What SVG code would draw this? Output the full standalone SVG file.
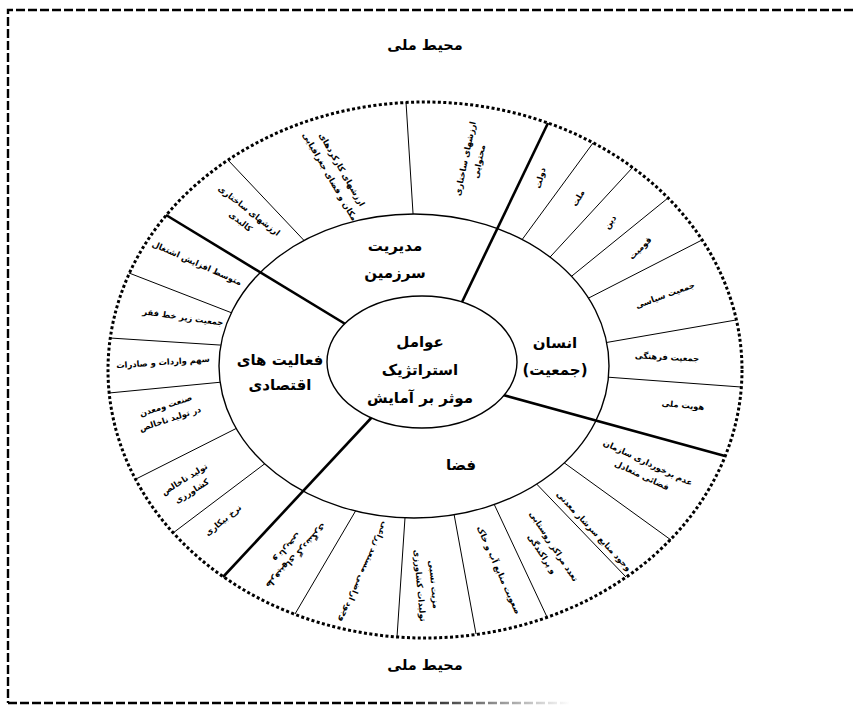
<svg xmlns="http://www.w3.org/2000/svg" width="853" height="707" viewBox="0 0 853 707">
<defs>
<linearGradient id="fade" gradientUnits="userSpaceOnUse" x1="400" y1="0" x2="570" y2="0">
<stop offset="0" stop-color="#000"/>
<stop offset="1" stop-color="#fff"/>
</linearGradient>
</defs>
<style>
text{font-family:"DejaVu Sans",sans-serif;font-weight:bold;text-anchor:middle;dominant-baseline:central;direction:rtl;fill:#000}
.h{font-size:14.5px}
.m{font-size:15px}
.c{font-size:15px}
.s{font-size:8.3px}
.thin{stroke:#000;stroke-width:1;fill:none}
.thick{stroke:#000;stroke-width:2.6;fill:none}
.ell{stroke:#000;stroke-width:1.4;fill:#fff}
</style>
<rect width="853" height="707" fill="#fff"/>
<g id="border" fill="none" stroke-width="2.4" stroke-dasharray="9 3">
<path d="M853,10 H8 V703" stroke="#000"/>
<path d="M8,703 H853" stroke="url(#fade)"/>
</g>
<g id="title-top"><text class="h" x="425" y="45">محیط ملی</text></g>
<g id="title-bottom"><text class="h" x="425" y="665">محیط ملی</text></g>
<g id="outer-ring"><ellipse cx="425" cy="370" rx="317" ry="268" fill="none" stroke="#000" stroke-width="3" stroke-dasharray="3 2.4"/></g>
<g id="connectors-outer" class="thin">
<line x1="314" y1="251" x2="228" y2="160"/>
<line x1="414" y1="229" x2="406" y2="102"/>
<line x1="513" y1="252" x2="593" y2="143"/>
<line x1="540" y1="268" x2="633" y2="167"/>
<line x1="562" y1="284" x2="668" y2="198"/>
<line x1="577" y1="304" x2="702" y2="240"/>
<line x1="592" y1="345" x2="736" y2="320"/>
<line x1="592" y1="376" x2="741" y2="387"/>
<line x1="552" y1="454" x2="671" y2="540"/>
<line x1="527" y1="474" x2="626" y2="577"/>
<line x1="487" y1="489" x2="547" y2="617"/>
<line x1="452" y1="503" x2="476" y2="634"/>
<line x1="406" y1="503" x2="397" y2="637"/>
<line x1="362" y1="500" x2="295" y2="614"/>
<line x1="245" y1="318" x2="129" y2="273"/>
<line x1="235" y1="346" x2="110" y2="338"/>
<line x1="233" y1="381" x2="109" y2="393"/>
<line x1="249" y1="422" x2="136" y2="479"/>
<line x1="275" y1="456" x2="173" y2="533"/>
</g>
<g id="middle-ring"><ellipse class="ell" cx="414" cy="366" rx="195" ry="152"/></g>
<g id="connectors-main" class="thick">
<line x1="451" y1="325" x2="548" y2="123"/>
<line x1="481" y1="389" x2="725" y2="456"/>
<line x1="401" y1="386" x2="223" y2="577"/>
<line x1="370" y1="339" x2="166" y2="215"/>
</g>
<g id="center">
<ellipse class="ell" cx="422" cy="362" rx="95" ry="66"/>
<text class="c" x="420" y="342">عوامل</text>
<text class="c" x="420" y="370">استراتژیک</text>
<text class="c" x="420" y="398">موثر بر آمایش</text>
</g>
<g id="sector-land"><text class="m" x="395" y="246">مدیریت</text><text class="m" x="395" y="273">سرزمین</text></g>
<g id="sector-human"><text class="m" x="555" y="343">انسان</text><text class="m" x="555" y="370">(جمعیت)</text></g>
<g id="sector-economy"><text class="m" x="280" y="360">فعالیت های</text><text class="m" x="280" y="385">اقتصادی</text></g>
<g id="sector-space"><text class="m" x="461" y="465">فضا</text></g>
<g id="l1"><text class="s" transform="translate(245,216) rotate(38)"><tspan x="0" y="-7">ارزشهای ساختاری</tspan><tspan x="0" y="7">کالبدی</tspan></text></g>
<g id="l2"><text class="s" transform="translate(336,173) rotate(60)"><tspan x="0" y="-7">ارزشهای کارکردهای</tspan><tspan x="0" y="7">مکان و فضای جغرافیایی</tspan></text></g>
<g id="l3"><text class="s" transform="translate(472,160) rotate(-78)"><tspan x="0" y="-7">ارزشهای ساختاری</tspan><tspan x="0" y="7">محتوایی</tspan></text></g>
<g id="l4"><text class="s" transform="translate(540,178) rotate(-75)">دولت</text></g>
<g id="l5"><text class="s" transform="translate(578,198) rotate(-60)">ملت</text></g>
<g id="l6"><text class="s" transform="translate(610,222) rotate(-55)">دین</text></g>
<g id="l7"><text class="s" transform="translate(640,248) rotate(-45)">قومیت</text></g>
<g id="l8"><text class="s" transform="translate(665,295) rotate(-20)">جمعیت سیاسی</text></g>
<g id="l9"><text class="s" transform="translate(667,357) rotate(3)">جمعیت فرهنگی</text></g>
<g id="l10"><text class="s" transform="translate(683,405) rotate(6)">هویت ملی</text></g>
<g id="l11"><text class="s" transform="translate(645,469) rotate(25)"><tspan x="0" y="-7">عدم برخورداری سازمان</tspan><tspan x="0" y="7">فضائی متعادل</tspan></text></g>
<g id="l12"><text class="s" transform="translate(594,531) rotate(47)">وجود منابع سرشار معدنی</text></g>
<g id="l13"><text class="s" transform="translate(548,550) rotate(57)"><tspan x="0" y="-7">تعدد مراکز روستایی</tspan><tspan x="0" y="7">و پراکندگی</tspan></text></g>
<g id="l14"><text class="s" transform="translate(499,570) rotate(66)">صعوبت منابع آب و خاک</text></g>
<g id="l15"><text class="s" transform="translate(427,585) rotate(85)"><tspan x="0" y="-7">مزیت نسبی</tspan><tspan x="0" y="7">تولیدات کشاورزی</tspan></text></g>
<g id="l16"><text class="s" transform="translate(364,572) rotate(114)">وجود اراضی مستعد زراعی</text></g>
<g id="l17"><text class="s" transform="translate(292,552) rotate(133)"><tspan x="0" y="-6">ظرفیتهای گردشگری</tspan><tspan x="0" y="6">و تاریخی</tspan></text></g>
<g id="l18"><text class="s" transform="translate(197,263) rotate(24)">متوسط افزایش اشتغال</text></g>
<g id="l19"><text class="s" transform="translate(183,317) rotate(8)">جمعیت زیر خط فقر</text></g>
<g id="l20"><text class="s" transform="translate(163,362) rotate(-4)">سهم واردات و صادرات</text></g>
<g id="l21"><text class="s" transform="translate(168,412) rotate(-18)"><tspan x="0" y="-7">صنعت ومعدن</tspan><tspan x="0" y="7">در تولید ناخالص</tspan></text></g>
<g id="l22"><text class="s" transform="translate(188,485) rotate(-32)"><tspan x="0" y="-7">تولید ناخالص</tspan><tspan x="0" y="7">کشاورزی</tspan></text></g>
<g id="l23"><text class="s" transform="translate(223,520) rotate(-39)">نرخ بیکاری</text></g>
</svg>
